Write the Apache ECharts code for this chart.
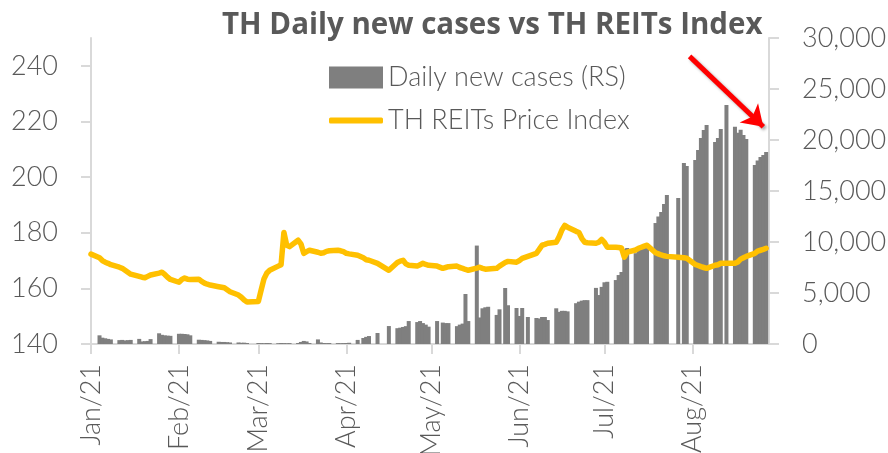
<!DOCTYPE html>
<html>
<head>
<meta charset="utf-8">
<script src="https://cdn.jsdelivr.net/npm/echarts@6/dist/echarts.min.js"></script>
<style>
html,body{margin:0;padding:0;background:#fff;}
#chart{width:888px;height:453px;}
</style>
</head>
<body>
<div id="chart"></div>
<script>
// ---- data ----
const startDate = '2021-01-01';
const endDate = '2021-08-28';
const holidays = ['2021-02-26','2021-04-06','2021-04-13','2021-04-14','2021-04-15','2021-05-04',
  '2021-05-26','2021-06-03','2021-07-26','2021-07-28','2021-08-12'];
const monthLabels = ['Jan/21','Feb/21','Mar/21','Apr/21','May/21','Jun/21','Jul/21','Aug/21'];
const leftTicks = [140,160,180,200,220,240];

// Daily new cases, one value per trading day (week by week)
const dailyCases = [
  null,
  850, 620, 560, 500, 450,
  380, 400, 350, 380, 400,
  500, 250, 280, 300, 480,
  1050, 900, 850, 820, 800,
  1000, 1000, 980, 950, 850,
  420, 400, 380, 350, 300,
  220, 200, 200, 180, 150,
  150, 120, 130, 100,
  100, 90, 80, 100, 90,
  80, 100, 90, 80, 90,
  100, 200, 300, 250, 100,
  450, 150, 100, 90, 100,
  90, 80, 90, 100, 120,
  400, 590, 700, 780,
  1080, 1760,
  1550, 1600, 1670, 1750, 2250,
  2150, 2250, 2050, 1900, 1700,
  2250, 2100, 2050, 2050,
  1750, 1900, 2000, 4900, 2250,
  9650, 2600, 3500, 3600, 3650,
  2850, 3400, 5490, 3800,
  3530, 2750, 3530, 2650,
  2550, 2500, 2650, 2650, 2350,
  3500, 3150, 3250, 3250, 3200,
  4000, 4150, 4250, 4300, 4300,
  5500, 4800, 5600, 6050, 6100,
  6270, 6760, 7060, 9300, 9410,
  8900, 9500, 9600, 9800, 9800,
  11860, 12500, 12940, 13730, 14610,
  14310, 17750, 17450,
  18040, 19020, 20200, 20980, 21470,
  19800, 20200, 21080, 23430,
  21300, 20700, 21000, 20500, 20100,
  17550, 18000, 18330, 18530, 18820
];

// TH REITs Price Index, one value per trading day (week by week)
const reitsIndex = [
  172.3,
  171.0, 170.0, 169.4, 169.0, 168.5,
  167.6, 167.2, 166.5, 165.8, 165.1,
  164.3, 164.0, 163.8, 164.3, 164.8,
  165.5, 165.8, 165.0, 164.0, 163.2,
  162.2, 163.2, 163.7, 163.3, 163.2,
  163.3, 162.5, 161.9, 161.5, 161.2,
  160.6, 160.4, 160.2, 159.5, 158.8,
  157.6, 156.8, 155.8, 155.1,
  155.3, 159.5, 163.5, 165.5, 166.5,
  168.0, 168.5, 180.1, 175.5, 175.0,
  177.3, 176.0, 172.6, 173.2, 173.7,
  173.0, 172.6, 172.8, 173.3, 173.5,
  173.7, 173.5, 173.2, 172.6, 172.4,
  171.9, 171.0, 170.3, 170.1,
  169.0, 166.5,
  169.3, 169.8, 170.1, 168.8, 168.3,
  168.0, 168.5, 169.0, 168.6, 168.3,
  168.0, 167.2, 167.5, 167.8,
  168.0, 167.5, 167.2, 166.8, 166.5,
  167.3, 167.6, 167.2, 166.9, 167.0,
  167.2, 168.0, 169.3, 169.7,
  169.4, 170.0, 170.8, 171.5,
  172.6, 174.0, 175.5, 175.8, 176.2,
  176.6, 178.5, 181.0, 182.6, 182.0,
  180.5, 180.1, 178.0, 176.6, 176.4,
  176.2, 176.6, 177.6, 176.5, 174.8,
  174.8, 174.7, 174.5, 171.2, 173.0,
  173.8, 174.4, 174.8, 175.2, 175.5,
  172.8, 172.4, 172.0, 171.7, 171.5,
  171.2, 171.0, 170.8,
  168.6, 168.2, 167.8, 167.5, 167.2,
  168.3, 168.5, 169.0, 169.0,
  169.0, 169.5, 170.5, 171.0, 171.5,
  172.6, 173.4, 173.7, 174.0, 174.4
];

// annotation arrow (data coordinates on the cases axis)
const arrowFrom = ['2021-07-31', 28200];
const arrowTo = ['2021-08-26', 21300];

// ---- build calendar axis ----
function fmt(d){ return d.toISOString().slice(0,10); }
const allDays = [];
const tradingDays = [];
{
  const s = new Date(startDate + 'T00:00:00Z'), e = new Date(endDate + 'T00:00:00Z');
  for (let t = s.getTime(); t <= e.getTime(); t += 86400000) {
    const d = new Date(t); const k = fmt(d);
    allDays.push(k);
    const wd = d.getUTCDay();
    if (wd !== 0 && wd !== 6 && holidays.indexOf(k) < 0) tradingDays.push(k);
  }
}
if (tradingDays.length !== dailyCases.length || tradingDays.length !== reitsIndex.length) {
  console.error('length mismatch', tradingDays.length, dailyCases.length, reitsIndex.length);
}
const caseMap = {}, reitMap = {};
tradingDays.forEach((k, i) => { caseMap[k] = dailyCases[i]; reitMap[k] = reitsIndex[i]; });
const caseSeries = allDays.map(k => (k in caseMap ? caseMap[k] : null));
const reitSeries = allDays.map(k => (k in reitMap ? reitMap[k] : null));

const isMonthStart = (idx, val) => val.slice(8) === '01';
const txt = '#595959';
const axisCol = '#d9d9d9';
const FONT = 'Lato';
const FS = 27;

const chart = echarts.init(document.getElementById('chart'), null, {renderer: 'canvas'});
chart.setOption({
  animation: false,
  backgroundColor: '#fff',
  title: {
    text: 'TH Daily new cases vs TH REITs Index',
    left: 222, top: 11, padding: 0,
    textStyle: {fontFamily: 'Open Sans', fontWeight: 'bold', fontSize: 29.5, color: txt}
  },
  legend: [
    {data: ['Daily new cases (RS)'], left: 329, top: 64, padding: 0, itemWidth: 54, itemHeight: 22, icon: 'rect',
     textStyle: {fontFamily: FONT, fontSize: FS, color: txt, fontWeight: 300}},
    {data: ['TH REITs Price Index'], left: 329, top: 107, padding: 0, itemWidth: 54, itemHeight: 6, icon: 'roundRect',
     textStyle: {fontFamily: FONT, fontSize: FS, color: txt, fontWeight: 300}}
  ],
  grid: {left: 91, right: 119, top: 38, bottom: 109, containLabel: false, outerBoundsMode: 'none'},
  xAxis: {
    type: 'category', data: allDays, boundaryGap: false,
    axisLine: {lineStyle: {color: axisCol, width: 2}},
    axisTick: {interval: isMonthStart, length: 10, lineStyle: {color: axisCol, width: 2}},
    axisLabel: {
      interval: isMonthStart, rotate: 90, margin: 20,
      fontFamily: FONT, fontSize: FS, color: txt, fontWeight: 300,
      formatter: v => monthLabels[parseInt(v.slice(5,7), 10) - 1]
    },
    splitLine: {show: false}
  },
  yAxis: [
    {
      type: 'value', position: 'left', min: 140, max: 250, interval: 20,
      axisLine: {show: true, lineStyle: {color: axisCol, width: 2}},
      axisTick: {show: true, length: 10, customValues: leftTicks, lineStyle: {color: axisCol, width: 2}},
      axisLabel: {margin: 33, customValues: leftTicks, fontFamily: FONT, fontSize: FS, color: txt, fontWeight: 300},
      splitLine: {show: false}
    },
    {
      type: 'value', position: 'right', min: 0, max: 30000, interval: 5000,
      axisLine: {show: true, lineStyle: {color: axisCol, width: 2}},
      axisTick: {show: true, length: 10, lineStyle: {color: axisCol, width: 2}},
      axisLabel: {margin: 33, fontFamily: FONT, fontSize: FS, color: txt, fontWeight: 300,
        formatter: v => v.toLocaleString('en-US')},
      splitLine: {show: false}
    }
  ],
  series: [
    {
      name: 'Daily new cases (RS)', type: 'bar', yAxisIndex: 1, data: caseSeries,
      barWidth: 4, itemStyle: {color: '#7f7f7f'}, z: 2,
      markLine: {
        silent: true, symbol: ['none', 'arrow'], symbolSize: 20,
        label: {show: false},
        lineStyle: {color: '#ff0000', width: 5, type: 'solid',
          shadowBlur: 3, shadowColor: 'rgba(0,0,0,0.35)', shadowOffsetX: 2, shadowOffsetY: 2},
        data: [[{coord: arrowFrom}, {coord: arrowTo}]]
      }
    },
    {
      name: 'TH REITs Price Index', type: 'line', yAxisIndex: 0, data: reitSeries,
      connectNulls: true, symbol: 'none', showSymbol: false, smooth: false,
      lineStyle: {color: '#ffc000', width: 5.5, cap: 'round', join: 'round'},
      itemStyle: {color: '#ffc000'}, z: 3
    }
  ]
});
</script>
</body>
</html>
